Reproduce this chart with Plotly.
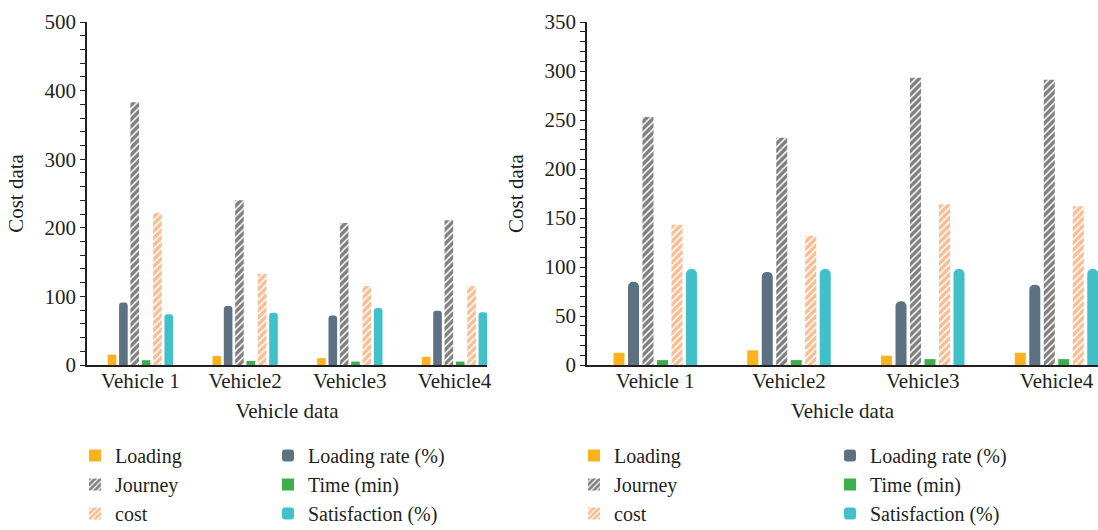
import plotly.graph_objects as go

# Categories
vehicles = ["Vehicle 1", "Vehicle2", "Vehicle3", "Vehicle4"]

# Left panel series
loading_a = [15, 13, 10, 12]
loading_rate_a = [91, 86, 72, 79]
journey_a = [383, 240, 207, 211]
time_a = [7, 6, 5, 5]
cost_a = [222, 133, 115, 115]
satisfaction_a = [74, 76, 83, 77]

# Right panel series
loading_b = [12.5, 15, 9.5, 12.5]
loading_rate_b = [85, 95, 65, 82]
journey_b = [253, 232, 293, 291]
time_b = [5, 5, 6, 6]
cost_b = [143, 132, 164, 162]
satisfaction_b = [98, 98, 98, 98]

W, H = 1098, 530
FONT = "Liberation Serif"
TXT = "#231f20"

C_LOAD = "#fbb21c"
C_RATE = "#5c7282"
C_TIME = "#3daf4a"
C_SAT = "#42c0ca"
C_COST = "#f47b2a"
C_JOUR = "#000000"

fig = go.Figure()


def hatch(color):
    return dict(shape="/", fgcolor=color, bgcolor="white", size=5, solidity=0.7)


def add_panel(xa, ya, data, legs, radius, gid):
    (loading, rate, journey, time, cost, sat) = data
    leg1, leg2 = legs
    specs = [
        ("Loading", loading, dict(color=C_LOAD), leg1),
        ("Loading rate (%)", rate, dict(color=C_RATE, cornerradius=radius), leg2),
        ("Journey", journey, dict(color="white", pattern=hatch(C_JOUR)), leg1),
        ("Time (min)", time, dict(color=C_TIME), leg2),
        ("cost", cost, dict(color="white", pattern=hatch(C_COST)), leg1),
        ("Satisfaction (%)", sat, dict(color=C_SAT, cornerradius=radius), leg2),
    ]
    for i, (name, vals, marker, leg) in enumerate(specs):
        marker = dict(marker)
        marker["line"] = dict(width=0)
        fig.add_trace(go.Bar(
            x=vehicles, y=vals, name=name, marker=marker,
            xaxis=xa, yaxis=ya, legend=leg,
            legendgroup=f"{gid}{i}",
        ))


add_panel("x", "y", (loading_a, loading_rate_a, journey_a, time_a, cost_a, satisfaction_a),
          ("legend", "legend2"), 3, "a")
add_panel("x2", "y2", (loading_b, loading_rate_b, journey_b, time_b, cost_b, satisfaction_b),
          ("legend3", "legend4"), 6, "b")

font = dict(family=FONT, size=21, color=TXT)
legfont = dict(family=FONT, size=20, color=TXT)

xcommon = dict(
    type="category", range=[-0.51, 3.31], showline=True, linecolor=TXT, linewidth=1.5,
    ticks="", showgrid=False, zeroline=False, tickfont=font, ticklabelstandoff=-4,
    title=dict(text="Vehicle data", font=font, standoff=11),
)
ycommon = dict(
    showline=True, linecolor=TXT, linewidth=1.5, ticks="outside", ticklen=5,
    tickcolor=TXT, tickwidth=1, showgrid=False, zeroline=False, tickfont=font,
    title=dict(text="Cost data", font=font),
)

ydom = [165 / H, 508 / H]

legend_base = dict(
    orientation="v", yanchor="top", xanchor="left", font=legfont,
    bgcolor="rgba(0,0,0,0)", borderwidth=0, tracegroupgap=0, itemclick=False,
)
ly = (H - 436) / H

fig.update_layout(
    width=W, height=H,
    margin=dict(l=0, r=0, t=0, b=0, autoexpand=False),
    paper_bgcolor="white", plot_bgcolor="white",
    barmode="group", bargap=0.35, bargroupgap=0.24,
    font=font,
    xaxis=dict(domain=[87 / W, 487 / W], anchor="y", **xcommon),
    yaxis=dict(domain=ydom, anchor="x", range=[0, 500], dtick=100,
               minor=dict(dtick=20, ticks="outside", ticklen=5, tickcolor=TXT),
               **ycommon),
    xaxis2=dict(domain=[587 / W, 1.0], anchor="y2", **xcommon),
    yaxis2=dict(domain=ydom, anchor="x2", range=[0, 350], dtick=50,
                minor=dict(dtick=10, ticks="outside", ticklen=5, tickcolor=TXT),
                **ycommon),
    legend=dict(x=75 / W, y=ly, **legend_base),
    legend2=dict(x=268 / W, y=ly, **legend_base),
    legend3=dict(x=574 / W, y=ly, **legend_base),
    legend4=dict(x=830 / W, y=ly, **legend_base),
)

fig.write_html("out.html")
